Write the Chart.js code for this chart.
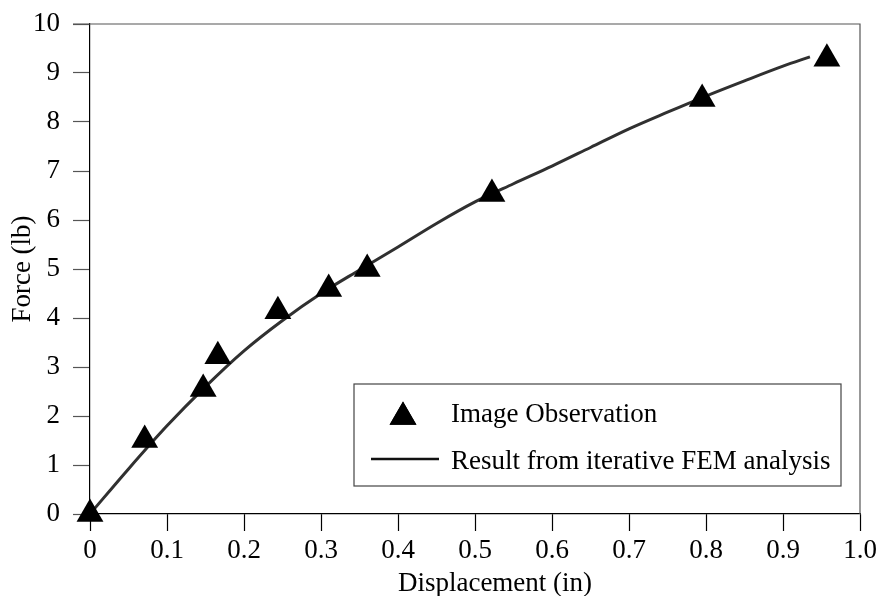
<!DOCTYPE html>
<html><head><meta charset="utf-8">
<script src="https://cdn.jsdelivr.net/npm/chart.js@4"></script>
<style>html,body{margin:0;padding:0;background:#fff}#wrap{width:880px;height:596px}</style>
</head><body><div id="wrap"><canvas id="c" width="880" height="596"></canvas></div>
<script>
// Observed points (triangles)
const obsX = [0, 0.071, 0.147, 0.166, 0.244, 0.31, 0.36, 0.522, 0.795, 0.957];
const obsY = [0, 1.51, 2.55, 3.22, 4.14, 4.59, 5.0, 6.53, 8.47, 9.29];
// FEM curve
const femX = [0, 0.05, 0.1, 0.15, 0.2, 0.25, 0.3, 0.35, 0.4, 0.45, 0.5, 0.55, 0.6, 0.65, 0.7, 0.75, 0.8, 0.85, 0.9, 0.935];
const femY = [0, 0.92, 1.8, 2.6, 3.33, 3.95, 4.5, 4.98, 5.45, 5.93, 6.37, 6.74, 7.1, 7.48, 7.86, 8.2, 8.53, 8.84, 9.14, 9.33];
// Ticks
const xTicks = [0, 0.1, 0.2, 0.3, 0.4, 0.5, 0.6, 0.7, 0.8, 0.9, 1.0];
const xTickLabels = ['0', '0.1', '0.2', '0.3', '0.4', '0.5', '0.6', '0.7', '0.8', '0.9', '1.0'];
const yTicks = [0, 1, 2, 3, 4, 5, 6, 7, 8, 9, 10];
const yTickLabels = ['0', '1', '2', '3', '4', '5', '6', '7', '8', '9', '10'];
const seriesNames = ['Image Observation', 'Result from iterative FEM analysis'];
const axisTitles = ['Displacement (in)', 'Force (lb)'];

const FONT = 'Liberation Serif, "Times New Roman", serif';
const FS = 27;

const obsData = obsX.map((x, i) => ({x, y: obsY[i]}));
const femData = femX.map((x, i) => ({x, y: femY[i]}));

const framePlugin = {
  id: 'frame',
  afterDraw(chart) {
    const {ctx, chartArea: a} = chart;
    ctx.save();
    // top and right frame
    ctx.strokeStyle = '#555';
    ctx.lineWidth = 1.2;
    ctx.beginPath();
    ctx.moveTo(a.left - 17, a.top);
    ctx.lineTo(a.right, a.top);
    ctx.lineTo(a.right, a.bottom);
    ctx.stroke();
    // axis titles
    ctx.fillStyle = '#000';
    ctx.font = FS + 'px ' + FONT;
    ctx.textAlign = 'center';
    ctx.textBaseline = 'alphabetic';
    ctx.fillText(axisTitles[0], (a.left + a.right) / 2 + 20, 591);
    ctx.save();
    ctx.translate(23, (a.top + a.bottom) / 2);
    ctx.rotate(-Math.PI / 2);
    ctx.textBaseline = 'middle';
    ctx.fillText(axisTitles[1], 0, 0);
    ctx.restore();
    // legend box
    const bx = a.left + 264, by = a.top + 360, bw = 487, bh = 102;
    ctx.fillStyle = '#fff';
    ctx.fillRect(bx, by, bw, bh);
    ctx.strokeStyle = '#444';
    ctx.lineWidth = 1.2;
    ctx.strokeRect(bx, by, bw, bh);
    // triangle sample
    ctx.fillStyle = '#000';
    Chart.helpers.drawPoint(ctx, {pointStyle: 'triangle', radius: 15.5, borderWidth: 0, rotation: 0}, bx + 49, by + 33);
    ctx.fill();
    // line sample
    ctx.strokeStyle = '#111';
    ctx.lineWidth = 2.5;
    ctx.beginPath();
    ctx.moveTo(bx + 17, by + 75);
    ctx.lineTo(bx + 85, by + 75);
    ctx.stroke();
    // text
    ctx.fillStyle = '#000';
    ctx.textAlign = 'left';
    ctx.textBaseline = 'alphabetic';
    ctx.fillText(chart.data.datasets[0].label, bx + 97, by + 38);
    ctx.fillText(chart.data.datasets[1].label, bx + 97, by + 85);
    ctx.restore();
  }
};

new Chart(document.getElementById('c'), {
  type: 'scatter',
  data: {
    datasets: [
      {
        label: seriesNames[0],
        data: obsData,
        pointStyle: 'triangle',
        pointRadius: 15.5,
        pointHoverRadius: 15.5,
        backgroundColor: '#000',
        borderColor: '#000',
        borderWidth: 0,
        showLine: false,
        clip: false,
        order: 0
      },
      {
        label: seriesNames[1],
        data: femData,
        showLine: true,
        borderColor: '#303030',
        borderWidth: 3,
        pointRadius: 0,
        cubicInterpolationMode: 'monotone',
        fill: false,
        order: 1
      }
    ]
  },
  options: {
    responsive: false,
    animation: false,
    devicePixelRatio: 1,
    layout: {padding: {top: 24, right: 20, left: 0, bottom: 0}},
    plugins: {legend: {display: false}, tooltip: {enabled: false}},
    scales: {
      x: {
        type: 'linear', min: 0, max: 1.0,
        afterBuildTicks: s => { s.ticks = xTicks.map(v => ({value: v})); },
        afterFit: s => { s.height = 82; s.paddingLeft = 0; s.paddingRight = 0; },
        ticks: {
          callback: (v) => xTickLabels[xTicks.findIndex(t => Math.abs(t - v) < 1e-9)],
          font: {family: FONT, size: FS}, color: '#000', padding: 4, maxRotation: 0, autoSkip: false
        },
        grid: {drawOnChartArea: false, drawTicks: true, tickLength: 17, tickColor: '#000', tickWidth: 1.2},
        border: {display: true, color: '#000', width: 1.2},
        title: {display: false}
      },
      y: {
        type: 'linear', min: 0, max: 10,
        afterBuildTicks: s => { s.ticks = yTicks.map(v => ({value: v})); },
        afterFit: s => { s.width = 90; s.paddingTop = 0; s.paddingBottom = 0; },
        ticks: {
          callback: (v) => yTickLabels[yTicks.indexOf(v)],
          font: {family: FONT, size: FS}, color: '#000', padding: 13, autoSkip: false
        },
        grid: {drawOnChartArea: false, drawTicks: true, tickLength: 17, tickColor: '#555', tickWidth: 1.2},
        border: {display: true, color: '#000', width: 1.2},
        title: {display: false}
      }
    }
  },
  plugins: [framePlugin]
});
</script>
</body></html>
